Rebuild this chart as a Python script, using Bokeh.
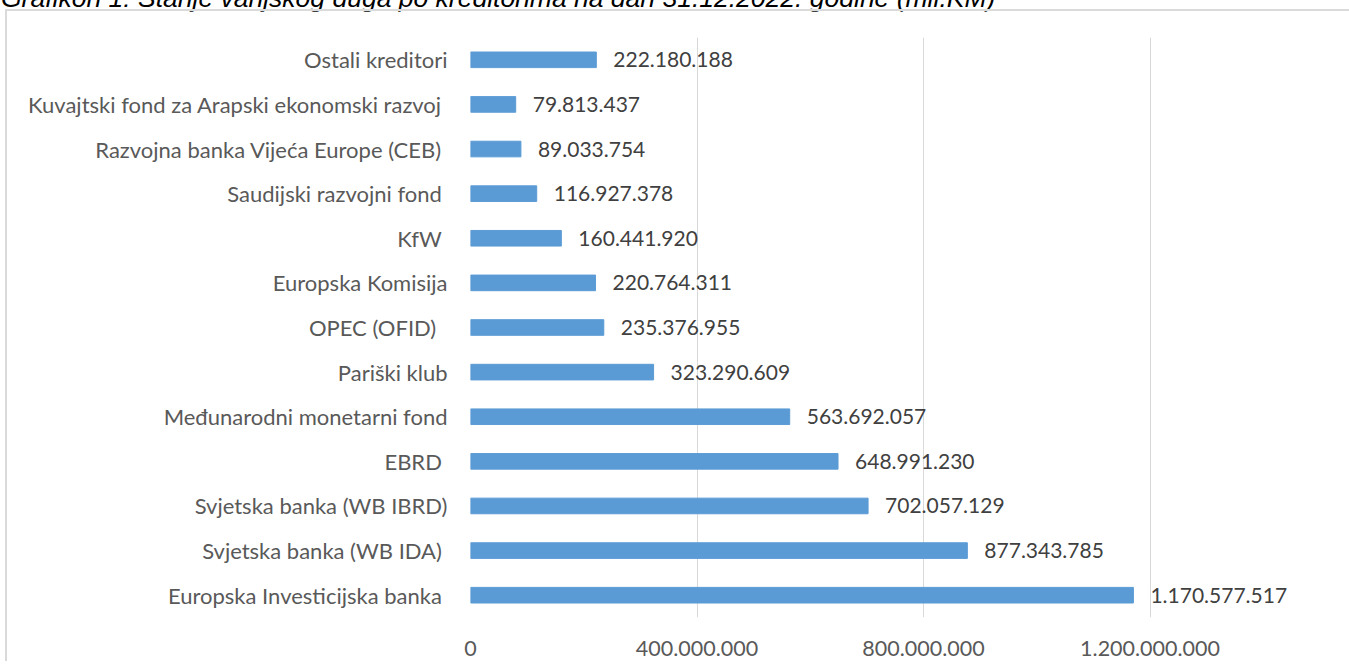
from bokeh.plotting import figure
from bokeh.models import FactorRange, Range1d, FixedTicker, CustomJSTickFormatter, ColumnDataSource, Div
from bokeh.layouts import column
from bokeh.core.properties import value
from bokeh.embed import file_html
from bokeh.resources import INLINE

title_text = "Grafikon 1: Stanje vanjskog duga po kreditorima na dan 31.12.2022. godine (mil.KM)"
categories = [
    "Ostali kreditori",
    "Kuvajtski fond za Arapski ekonomski razvoj ",
    "Razvojna banka Vijeća Europe (CEB) ",
    "Saudijski razvojni fond ",
    "KfW ",
    "Europska Komisija",
    "OPEC (OFID)  ",
    "Pariški klub",
    "Međunarodni monetarni fond",
    "EBRD ",
    "Svjetska banka (WB IBRD)",
    "Svjetska banka (WB IDA) ",
    "Europska Investicijska banka ",
]
values = [222180188, 79813437, 89033754, 116927378, 160441920, 220764311, 235376955,
          323290609, 563692057, 648991230, 702057129, 877343785, 1170577517]
x_ticks = [0, 400000000, 800000000, 1200000000]

labels = [f"{v:,}".replace(",", ".") for v in values]
src = ColumnDataSource(dict(cat=categories, val=values, lab=labels))

W, H = 1342, 650
p = figure(width=W, height=H, output_backend="svg", toolbar_location=None,
           y_range=FactorRange(factors=list(reversed(categories))),
           x_range=Range1d(0, 1.531e9),
           min_border_left=463, min_border_right=14, min_border_top=26, min_border_bottom=46)
p.styles = {"margin-left": "5px", "margin-top": "-10px", "box-sizing": "content-box", "overflow": "hidden",
            "border-top": "2px solid #dadada", "border-left": "2px solid #dadada"}
p.outline_line_color = None
p.background_fill_color = "white"

p.hbar(y="cat", right="val", left=0, height=0.35, color="#5b9bd5", source=src)
p.text(x="val", y="cat", text="lab", source=src, x_offset=17, text_baseline="middle",
       text_align="left", text_font=value("Lato"), text_font_size="21px", text_color="#404040")

p.xaxis.ticker = FixedTicker(ticks=x_ticks)
p.xaxis.formatter = CustomJSTickFormatter(code="return tick.toFixed(0).replace(/\\B(?=(\\d{3})+(?!\\d))/g, '.');")
for ax in (p.xaxis, p.yaxis):
    ax.axis_line_color = None
    ax.major_tick_line_color = None
    ax.minor_tick_line_color = None
    ax.major_label_text_font = "Lato"
    ax.major_label_text_color = "#595959"
p.xaxis.major_label_text_font_size = "21.5px"
p.yaxis.major_label_text_font_size = "22px"
p.xaxis.major_label_standoff = 17
p.yaxis.major_label_standoff = 17
p.xgrid.grid_line_color = "#d9d9d9"
p.xgrid.ticker = FixedTicker(ticks=x_ticks)
p.ygrid.grid_line_color = None

title_html = ('<span style="display:block; position:relative; top:-22px; left:-4px; white-space:nowrap; '
              "font-family:'Liberation Sans', Arial, sans-serif; font-style:italic; font-size:26.5px; "
              'line-height:30px; color:#000000;">' + title_text + '</span>')
title = Div(text=title_html, width=W, height=9, styles={"overflow": "visible"})

layout = column(title, p, spacing=0)
open("out.html", "w").write(file_html(layout, INLINE))
